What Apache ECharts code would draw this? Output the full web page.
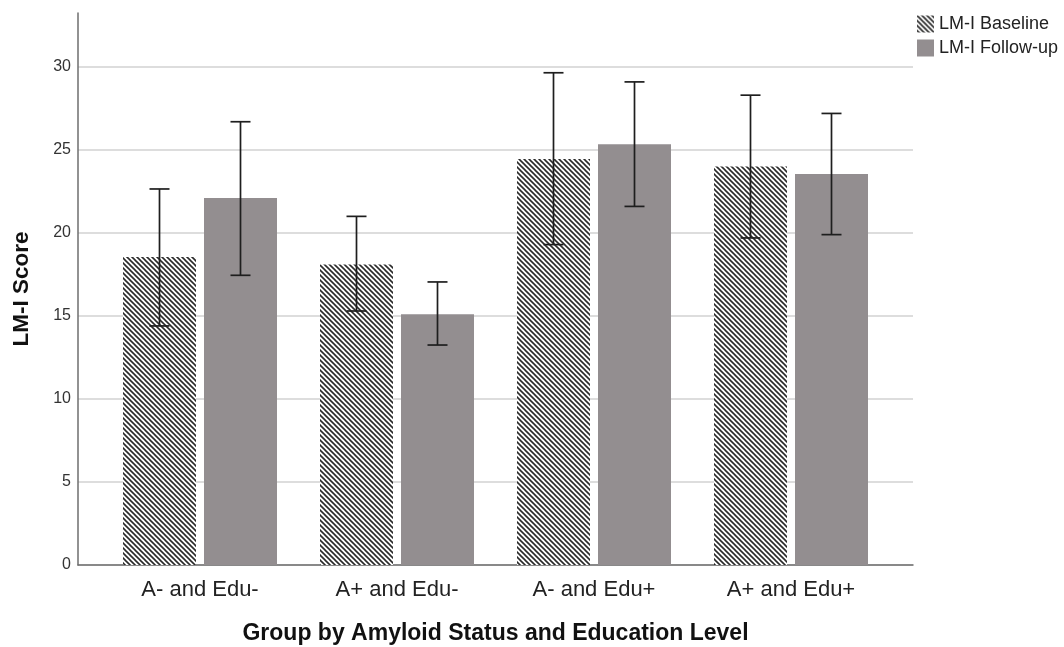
<!DOCTYPE html>
<html>
<head>
<meta charset="utf-8">
<script src="https://cdn.jsdelivr.net/npm/echarts@6/dist/echarts.min.js"></script>
<style>
  html, body { margin: 0; padding: 0; background: #fff; }
  #chart { width: 1064px; height: 647px; }
</style>
</head>
<body>
<div id="chart"></div>
<script>
// Group means and 95% CI bounds for LM-I scores
const categories = ['A- and Edu-', 'A+ and Edu-', 'A- and Edu+', 'A+ and Edu+'];
const seriesNames = ['LM-I Baseline', 'LM-I Follow-up'];
const baselineMean = [18.55, 18.1, 24.45, 24.0];
const baselineLow  = [14.4, 15.3, 19.3, 19.7];
const baselineHigh = [22.65, 21.0, 29.65, 28.3];
const followMean   = [22.1, 15.1, 25.35, 23.55];
const followLow    = [17.45, 13.25, 21.6, 19.9];
const followHigh   = [26.7, 17.05, 29.1, 27.2];
const yTicks = [0, 5, 10, 15, 20, 25, 30];

const FONT = '"Liberation Sans", Arial, sans-serif';
const BAR_W = 73;
const BAR_GAP = 8;
const Y_MAX = 33.25;          // top of the value axis frame
const TICK_MAX = yTicks[yTicks.length - 1];

// plot frame in pixels
const PLOT_TOP = 13, PLOT_BOTTOM = 82, PLOT_LEFT = 78, PLOT_RIGHT = 151;
const plotH = 647 - PLOT_TOP - PLOT_BOTTOM;
// top offset of the tick grid so that its max lines up with TICK_MAX on the frame
const tickTop = PLOT_TOP + plotH * (1 - TICK_MAX / Y_MAX);

// Diagonal hatch pattern for the baseline bars
function hatchPattern() {
  const s = 5;
  const c = document.createElement('canvas');
  c.width = s; c.height = s;
  const g = c.getContext('2d');
  g.fillStyle = '#ffffff';
  g.fillRect(0, 0, s, s);
  g.strokeStyle = '#2a2a2a';
  g.lineWidth = 1.6;
  for (let k = -1; k <= 1; k++) {
    g.beginPath();
    g.moveTo(-1, -1 + k * s);
    g.lineTo(s + 1, s + 1 + k * s);
    g.stroke();
  }
  return c;
}
const hatch = { image: hatchPattern(), repeat: 'repeat' };
const followColor = '#938e90';

function errorSeries(low, high, side) {
  return {
    type: 'custom',
    xAxisIndex: 1, yAxisIndex: 1,
    z: 10,
    silent: true,
    data: categories.map((c, i) => [i, low[i], high[i]]),
    renderItem: function (params, api) {
      const i = api.value(0);
      const off = side * (BAR_W + BAR_GAP) / 2;
      const lo = api.coord([i, api.value(1)]);
      const hi = api.coord([i, api.value(2)]);
      const x = lo[0] + off;
      const cap = 10;
      const style = { stroke: '#1e1e1e', lineWidth: 1.7 };
      return {
        type: 'group',
        children: [
          { type: 'line', shape: { x1: x, y1: lo[1], x2: x, y2: hi[1] }, style: style },
          { type: 'line', shape: { x1: x - cap, y1: lo[1], x2: x + cap, y2: lo[1] }, style: style },
          { type: 'line', shape: { x1: x - cap, y1: hi[1], x2: x + cap, y2: hi[1] }, style: style }
        ]
      };
    }
  };
}

const chart = echarts.init(document.getElementById('chart'), null, { renderer: 'canvas' });

const option = {
  animation: false,
  backgroundColor: '#ffffff',
  textStyle: { fontFamily: FONT },
  legend: {
    orient: 'vertical',
    left: 912, top: 10,
    itemWidth: 17, itemHeight: 17, itemGap: 6,
    icon: 'rect',
    textStyle: { fontFamily: FONT, fontSize: 18, lineHeight: 18, color: '#222' },
    data: seriesNames
  },
  grid: [
    // frame: axis lines and axis titles
    { left: PLOT_LEFT, right: PLOT_RIGHT, top: PLOT_TOP, bottom: PLOT_BOTTOM, outerBoundsMode: 'none' },
    // bars, inset so groups sit centred in the frame
    { left: 101.5, width: 788, top: PLOT_TOP, bottom: PLOT_BOTTOM, outerBoundsMode: 'none' },
    // tick labels and grid lines, 0..30
    { left: PLOT_LEFT, right: PLOT_RIGHT, top: tickTop, bottom: PLOT_BOTTOM, outerBoundsMode: 'none' }
  ],
  xAxis: [
    {
      gridIndex: 0, type: 'category', data: [''],
      axisLine: { show: true, lineStyle: { color: '#6e6e6e', width: 1.5 } },
      axisTick: { show: false }, axisLabel: { show: false },
      name: 'Group by Amyloid Status and Education Level',
      nameLocation: 'middle', nameGap: 57,
      nameTextStyle: { fontFamily: FONT, fontSize: 23, fontWeight: 'bold', color: '#111' }
    },
    {
      gridIndex: 1, type: 'category', data: categories,
      axisLine: { show: false }, axisTick: { show: false },
      axisLabel: { fontFamily: FONT, fontSize: 22, color: '#222', margin: 14 }
    },
    {
      gridIndex: 2, type: 'category', data: [''], show: false
    }
  ],
  yAxis: [
    {
      gridIndex: 0, type: 'value', min: 0, max: Y_MAX,
      axisLine: { show: true, lineStyle: { color: '#6e6e6e', width: 1.5 } },
      axisTick: { show: false }, axisLabel: { show: false }, splitLine: { show: false },
      name: 'LM-I Score', nameLocation: 'middle', nameGap: 45,
      nameTextStyle: { fontFamily: FONT, fontSize: 22.5, fontWeight: 'bold', color: '#111' }
    },
    {
      gridIndex: 1, type: 'value', min: 0, max: Y_MAX, show: false
    },
    {
      gridIndex: 2, type: 'value', min: 0, max: TICK_MAX, interval: 5,
      axisLine: { show: false }, axisTick: { show: false },
      axisLabel: { fontFamily: FONT, fontSize: 16, color: '#333', margin: 7 },
      splitLine: { show: true, lineStyle: { color: '#d2d2d2', width: 1.5 } }
    }
  ],
  series: [
    {
      name: seriesNames[0], type: 'bar', xAxisIndex: 1, yAxisIndex: 1,
      data: baselineMean, barWidth: BAR_W, barGap: (BAR_GAP / BAR_W * 100) + '%',
      itemStyle: { color: hatch }
    },
    {
      name: seriesNames[1], type: 'bar', xAxisIndex: 1, yAxisIndex: 1,
      data: followMean, barWidth: BAR_W,
      itemStyle: { color: followColor }
    },
    errorSeries(baselineLow, baselineHigh, -1),
    errorSeries(followLow, followHigh, 1)
  ]
};

chart.setOption(option);
</script>
</body>
</html>
